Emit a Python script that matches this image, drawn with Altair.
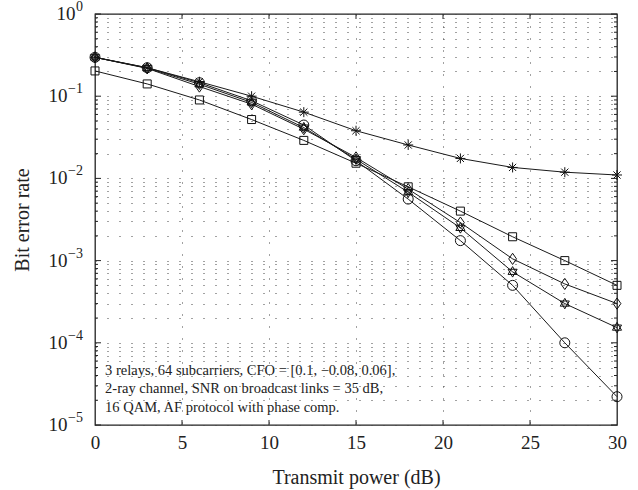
import altair as alt
import pandas as pd

# ---------------- data ----------------
power_db = [0, 3, 6, 9, 12, 15, 18, 21, 24, 27, 30]
ber_asterisk = [0.297, 0.222, 0.150, 0.100, 0.064, 0.038, 0.0255, 0.0175, 0.0136, 0.0119, 0.0110]
ber_square = [0.203, 0.141, 0.090, 0.052, 0.029, 0.0153, 0.0079, 0.0040, 0.00195, 0.00100, 0.00050]
ber_diamond = [0.297, 0.218, 0.131, 0.080, 0.0397, 0.0180, 0.0074, 0.0029, 0.00105, 0.00052, 0.00030]
ber_hexagram = [0.297, 0.220, 0.140, 0.084, 0.0415, 0.0171, 0.0068, 0.0025, 0.00073, 0.00030, 0.000153]
ber_circle = [0.297, 0.222, 0.146, 0.088, 0.0446, 0.0164, 0.0056, 0.00175, 0.00050, 0.00010, 0.0000221]

series_names = ["asterisk", "square", "diamond", "hexagram", "circle"]
series_values = [ber_asterisk, ber_square, ber_diamond, ber_hexagram, ber_circle]

x_ticks = [0, 5, 10, 15, 20, 25, 30]
x_inner_ticks = [5, 10, 15, 20, 25]
y_major = [1.0, 1e-1, 1e-2, 1e-3, 1e-4, 1e-5]
y_minor = [m * 10.0 ** e for e in range(-5, 0) for m in range(2, 10)]
y_label_base = ["10", "10", "10", "10", "10", "10"]
y_label_exp = ["0", "\u22121", "\u22122", "\u22123", "\u22124", "\u22125"]

note_lines = [
    "3 relays, 64 subcarriers, CFO = [0.1, \u22120.08, 0.06],",
    "2-ray channel, SNR on broadcast links = 35 dB,",
    "16 QAM, AF protocol with phase comp.",
]

x_title = "Transmit power (dB)"
y_title = "Bit error rate"

# ---------------- tables ----------------
rows = []
for name, vals in zip(series_names, series_values):
    for x, v in zip(power_db, vals):
        rows.append({"series": name, "power": x, "ber": v})
df = pd.DataFrame(rows)

shape_paths = [
    "M-1,0L1,0M0,-1L0,1M-0.72,-0.72L0.72,0.72M-0.72,0.72L0.72,-0.72",
    "M-0.8,-0.8L0.8,-0.8L0.8,0.8L-0.8,0.8Z",
    "M0,-1.12L0.78,0L0,1.12L-0.78,0Z",
    "M0,-1.05L0.91,0.52L-0.91,0.52ZM0,1.05L0.91,-0.52L-0.91,-0.52Z",
    "circle",
]

FONT = "Liberation Serif"
W, H = 522, 411

xscale = alt.Scale(domain=[0, 30], nice=False, zero=False)
yscale = alt.Scale(type="log", domain=[1e-5, 1], nice=False)

x_axis = alt.Axis(
    values=x_ticks, grid=True, gridDash=[1, 11], gridColor="#444", gridWidth=1,
    ticks=False, domain=False, labelFont=FONT, labelFontSize=19, labelColor="#222",
    labelPadding=8, labelFlush=False, title=x_title, titleFont=FONT, titleFontSize=20,
    titleFontWeight="normal", titleColor="#222", titleY=58, titleBaseline="alphabetic",
)
y_axis = alt.Axis(
    values=sorted(y_major + y_minor), grid=True, gridDash=[1, 11], gridColor="#444",
    gridWidth=1, ticks=False, domain=False, labels=False,
    title=y_title, titleFont=FONT, titleFontSize=20,
    titleFontWeight="normal", titleColor="#222", titleX=-73, titleBaseline="middle",
)


def X(field):
    return alt.X(field, scale=xscale, axis=x_axis, title=x_title)


def Y(field):
    return alt.Y(field, scale=yscale, axis=y_axis, title=y_title)


lines = alt.Chart(df).mark_line(color="#1a1a1a", strokeWidth=1).encode(
    x=X("power:Q"), y=Y("ber:Q"), detail="series:N",
)

points = alt.Chart(df).mark_point(filled=False, color="#111", size=100, strokeWidth=1, opacity=1).encode(
    x=X("power:Q"), y=Y("ber:Q"),
    shape=alt.Shape("series:N", scale=alt.Scale(domain=series_names, range=shape_paths), legend=None),
)

ymaj_df = pd.DataFrame({"ber": y_major})
ymin_df = pd.DataFrame({"ber": y_minor})
xt_df = pd.DataFrame({"power": x_inner_ticks})

tick_style = dict(color="#222", strokeWidth=1)
yl_major = alt.Chart(ymaj_df).mark_rule(**tick_style).encode(
    y=Y("ber:Q"), x=alt.value(0), x2=alt.value(6))
yr_major = alt.Chart(ymaj_df).mark_rule(**tick_style).encode(
    y=Y("ber:Q"), x=alt.value(W - 6), x2=alt.value(W))
yl_minor = alt.Chart(ymin_df).mark_rule(**tick_style).encode(
    y=Y("ber:Q"), x=alt.value(0), x2=alt.value(3))
yr_minor = alt.Chart(ymin_df).mark_rule(**tick_style).encode(
    y=Y("ber:Q"), x=alt.value(W - 3), x2=alt.value(W))
xb_ticks = alt.Chart(xt_df).mark_rule(**tick_style).encode(
    x=X("power:Q"), y=alt.value(H - 5), y2=alt.value(H))
xt_ticks = alt.Chart(xt_df).mark_rule(**tick_style).encode(
    x=X("power:Q"), y=alt.value(0), y2=alt.value(5))

# y tick labels: "10" with a raised exponent
lab_df = pd.DataFrame({"ber": y_major, "base": y_label_base, "exp": y_label_exp})
exp_text = alt.Chart(lab_df).mark_text(
    align="right", baseline="middle", font=FONT, fontSize=14, color="#222", dy=-7
).encode(y=Y("ber:Q"), x=alt.value(-12), text="exp:N")
base_zero = alt.Chart(lab_df).transform_filter("datum.ber >= 1").mark_text(
    align="right", baseline="middle", font=FONT, fontSize=19, color="#222"
).encode(y=Y("ber:Q"), x=alt.value(-19.5), text="base:N")
base_neg = alt.Chart(lab_df).transform_filter("datum.ber < 1").mark_text(
    align="right", baseline="middle", font=FONT, fontSize=19, color="#222"
).encode(y=Y("ber:Q"), x=alt.value(-27.5), text="base:N")

note_df = pd.DataFrame({"power": [0.58], "ber": [4.06e-5], "t": [note_lines]})
note = alt.Chart(note_df).mark_text(
    align="left", baseline="alphabetic", font=FONT, fontSize=14.5, color="#222", lineHeight=18.5
).encode(
    x=X("power:Q"), y=Y("ber:Q"), text="t",
)

chart = alt.layer(
    lines, yl_major, yr_major, yl_minor, yr_minor, xb_ticks, xt_ticks, points, note,
    exp_text, base_zero, base_neg,
).properties(
    width=W, height=H,
    padding={"left": 95, "top": 14, "right": 21, "bottom": 65},
    autosize=alt.AutoSizeParams(type="none"),
    background="white",
).configure_view(stroke="#222", strokeWidth=1.3)

chart.save("out.html", embed_options={"renderer": "svg", "actions": False})
